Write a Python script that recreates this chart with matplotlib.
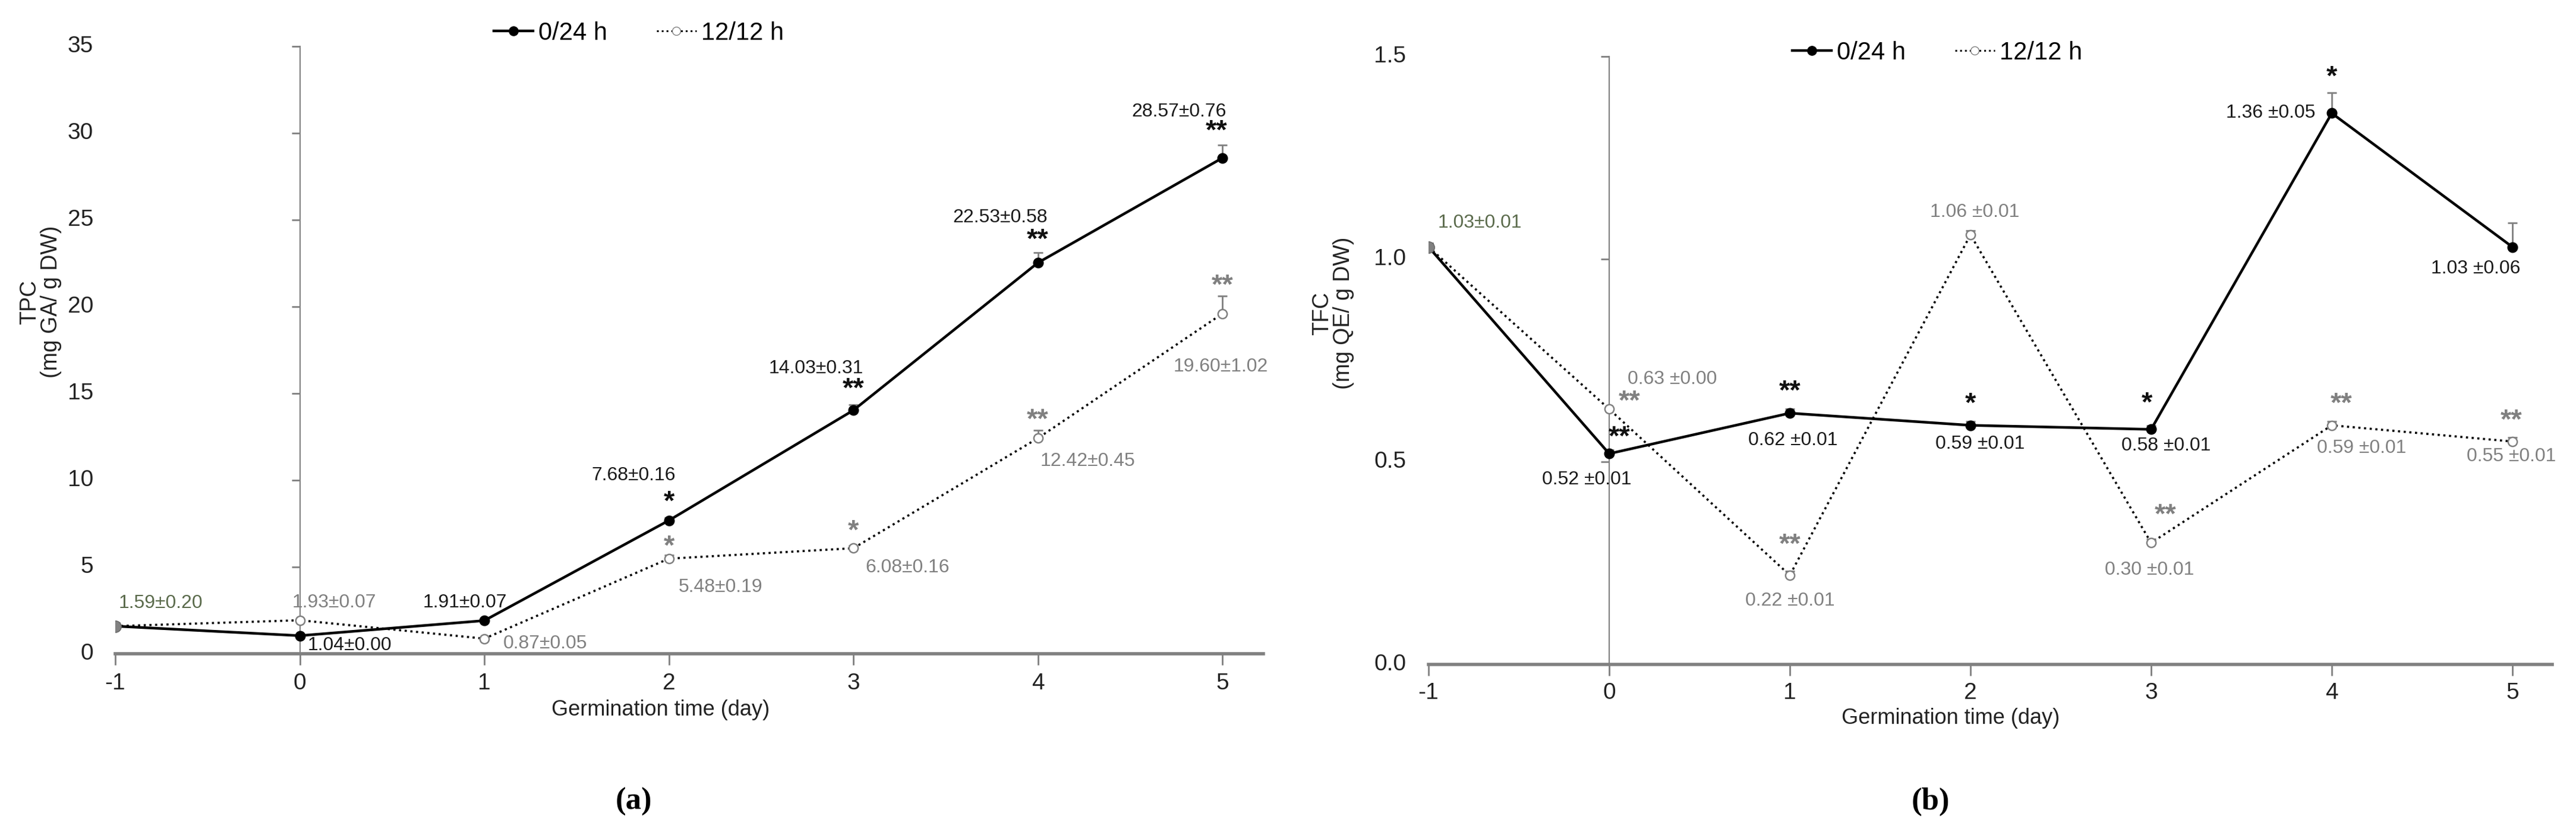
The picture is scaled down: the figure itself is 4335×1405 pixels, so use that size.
import matplotlib
matplotlib.use("Agg")
import matplotlib.pyplot as plt
import matplotlib.transforms as mtrans
from matplotlib.lines import Line2D

plt.rcParams['font.family'] = ['Liberation Sans', 'DejaVu Sans']

days = [-1, 0, 1, 2, 3, 4, 5]
tpc_024 = [1.59, 1.04, 1.91, 7.68, 14.03, 22.53, 28.57]
tpc_024_err = [0.20, 0.00, 0.07, 0.16, 0.31, 0.58, 0.76]
tpc_1212 = [1.59, 1.93, 0.87, 5.48, 6.08, 12.42, 19.60]
tpc_1212_err = [0.20, 0.07, 0.05, 0.19, 0.16, 0.45, 1.02]
tpc_024_sig = ['', '', '', '*', '**', '**', '**']
tpc_1212_sig = ['', '', '', '*', '*', '**', '**']
tpc_024_lbl = ['1.59±0.20', '1.04±0.00', '1.91±0.07', '7.68±0.16', '14.03±0.31', '22.53±0.58', '28.57±0.76']
tpc_1212_lbl = ['', '1.93±0.07', '0.87±0.05', '5.48±0.19', '6.08±0.16', '12.42±0.45', '19.60±1.02']

tfc_024 = [1.03, 0.52, 0.62, 0.59, 0.58, 1.36, 1.03]
tfc_024_err = [0.01, 0.01, 0.01, 0.01, 0.01, 0.05, 0.06]
tfc_1212 = [1.03, 0.63, 0.22, 1.06, 0.30, 0.59, 0.55]
tfc_1212_err = [0.01, 0.00, 0.01, 0.01, 0.01, 0.01, 0.01]
tfc_024_sig = ['', '**', '**', '*', '*', '*', '']
tfc_1212_sig = ['', '**', '**', '', '**', '**', '**']
tfc_024_lbl = ['1.03±0.01', '0.52 ±0.01', '0.62 ±0.01', '0.59 ±0.01', '0.58 ±0.01', '1.36 ±0.05', '1.03 ±0.06']
tfc_1212_lbl = ['', '0.63 ±0.00', '0.22 ±0.01', '1.06 ±0.01', '0.30 ±0.01', '0.59 ±0.01', '0.55 ±0.01']

W, H = 4335, 1405
fig = plt.figure(figsize=(W/100, H/100), dpi=100)
GRAY = '#808080'
GREEN = '#5b6b4c'

def fx(px): return px / W
def fy(py): return 1 - py / H

tpc_lbl_off_a = [(76, -39), (84, 16), (-33, -30), (-59, -76), (-63, -70), (-64, -76), (-73, -78)]
tpc_lbl_off_b = [None, (58, -30), (102, 8), (87, 48), (91, 33), (84, 39), (-3, 89)]
tpc_sig_off_a = [None, None, None, (0, -30), (0, -35), (0, -37), (-10, -44)]
tpc_sig_off_b = [None, None, None, (0, -19), (0, -28), (0, -30), (0, -46)]

tfc_lbl_off_a = [(86, -41), (-38, 44), (5, 46), (16, 31), (25, 28), (-103, 0), (-62, 36)]
tfc_lbl_off_b = [None, (106, -50), (0, 43), (7, -38), (-3, 46), (50, 38), (-2, 25)]
tfc_sig_off_a = [None, (17, -27), (0, -35), (0, -35), (-7, -43), (0, -60), None]
tfc_sig_off_b = [None, (34, -12), (0, -50), None, (24, -46), (16, -35), (-2, -34)]


def panel(rect, ymax, yticks, ytick_fmt, a, ae, b, be, la, lb, sa, sb, ola, olb, osa, osb,
          ylabel, ylab_pos, xlab_pos, ytick_px, xtick_py, letter, letter_pos, leg_pos):
    ax = fig.add_axes(rect)
    ax.set_xlim(-1, 5.22)
    ax.set_ylim(0, ymax)
    for s in ['top', 'right']:
        ax.spines[s].set_visible(False)
    ax.spines['left'].set_position(('data', 0))
    ax.spines['left'].set_color(GRAY)
    ax.spines['left'].set_linewidth(1.5)
    ax.spines['bottom'].set_color(GRAY)
    ax.spines['bottom'].set_linewidth(4)
    ax.set_yticks(yticks)
    ax.set_xticks(days)
    ax.tick_params(axis='y', direction='out', length=10, width=2, color=GRAY, labelleft=False)
    ax.tick_params(axis='x', direction='out', length=14, width=2, color=GRAY, labelbottom=False)
    tr = mtrans.blended_transform_factory(fig.transFigure, ax.transData)
    for t in yticks:
        ax.text(fx(ytick_px), t, ytick_fmt.format(t), transform=tr, ha='right', va='center', fontsize=28, color='#222222')
    trx = mtrans.blended_transform_factory(ax.transData, fig.transFigure)
    for d in days:
        ax.text(d, fy(xtick_py), str(d), transform=trx, ha='center', va='center', fontsize=28, color='#222222')

    ax.errorbar(days, b, yerr=[[0]*7, be], fmt='none', ecolor=GRAY, elinewidth=2, capsize=6, capthick=2, zorder=2)
    ax.errorbar(days, a, yerr=[[0]*7, ae], fmt='none', ecolor=GRAY, elinewidth=2, capsize=6, capthick=2, zorder=2)
    ax.plot(days, b, ls=':', color='black', lw=2.6, marker='o', ms=11, mfc='white', mec=GRAY, mew=1.8, zorder=3)
    ax.plot(days, a, ls='-', color='black', lw=3.2, marker='o', ms=12, mfc='black', mec='black', zorder=4)
    ax.plot([days[0]], [a[0]], marker='o', ms=14, mfc=GRAY, mec='#666666', ls='none', zorder=5)

    for i, d in enumerate(days):
        if ola[i] and la[i]:
            ax.annotate(la[i], (d, a[i]), xytext=(ola[i][0], -ola[i][1]), textcoords='offset pixels',
                        ha='center', va='center', fontsize=23, color=GREEN if i == 0 else '#1a1a1a')
        if olb[i] and lb[i]:
            ax.annotate(lb[i], (d, b[i]), xytext=(olb[i][0], -olb[i][1]), textcoords='offset pixels',
                        ha='center', va='center', fontsize=23, color=GRAY)
        if osa[i] and sa[i]:
            ax.annotate(sa[i], (d, a[i]), xytext=(osa[i][0], -osa[i][1]), textcoords='offset pixels',
                        ha='center', va='center', fontsize=34, color='#111111', fontweight='bold')
        if osb[i] and sb[i]:
            ax.annotate(sb[i], (d, b[i]), xytext=(osb[i][0], -osb[i][1]), textcoords='offset pixels',
                        ha='center', va='center', fontsize=34, color=GRAY, fontweight='bold')

    fig.text(fx(ylab_pos[0]), fy(ylab_pos[1]), ylabel, rotation=90, ha='center', va='center',
             fontsize=27, color='#222222', linespacing=1.0, multialignment='center')
    fig.text(fx(xlab_pos[0]), fy(xlab_pos[1]), 'Germination time (day)', ha='center', va='center',
             fontsize=26, color='#222222')
    fig.text(fx(letter_pos[0]), fy(letter_pos[1]), '(' + letter + ')', ha='center', va='center',
             fontsize=38, family='Liberation Serif', fontweight='bold')
    handles = [Line2D([], [], color='black', lw=3.2, marker='o', ms=11, mfc='black'),
               Line2D([], [], color='black', lw=2.2, ls=':', marker='o', ms=10, mfc='white', mec=GRAY)]
    fig.legend(handles, ['0/24 h', '12/12 h'], loc='center', bbox_to_anchor=(fx(leg_pos[0]), fy(leg_pos[1])),
               ncol=2, frameon=False, fontsize=30, handlelength=1.6, handletextpad=0.2, columnspacing=2.0)
    return ax

panel([fx(194), fy(1100), fx(1931.5), 1022 / H], 35, [0, 5, 10, 15, 20, 25, 30, 35], '{:g}',
      tpc_024, tpc_024_err, tpc_1212, tpc_1212_err, tpc_024_lbl, tpc_1212_lbl,
      tpc_024_sig, tpc_1212_sig, tpc_lbl_off_a, tpc_lbl_off_b, tpc_sig_off_a, tpc_sig_off_b,
      'TPC\n(mg GA/ g DW)', (68, 508), (1112, 1195), 157, 1150, 'a', (1066, 1349), (1075, 56))

panel([fx(2404), fy(1118), fx(304 * 6.22), 1023 / H], 1.5, [0.0, 0.5, 1.0, 1.5], '{:.1f}',
      tfc_024, tfc_024_err, tfc_1212, tfc_1212_err, tfc_024_lbl, tfc_1212_lbl,
      tfc_024_sig, tfc_1212_sig, tfc_lbl_off_a, tfc_lbl_off_b, tfc_sig_off_a, tfc_sig_off_b,
      'TFC\n(mg QE/ g DW)', (2243, 527), (3283, 1209), 2366, 1166, 'b', (3249, 1349), (3260, 89))

fig.savefig('out.png', dpi=100, facecolor='white')
